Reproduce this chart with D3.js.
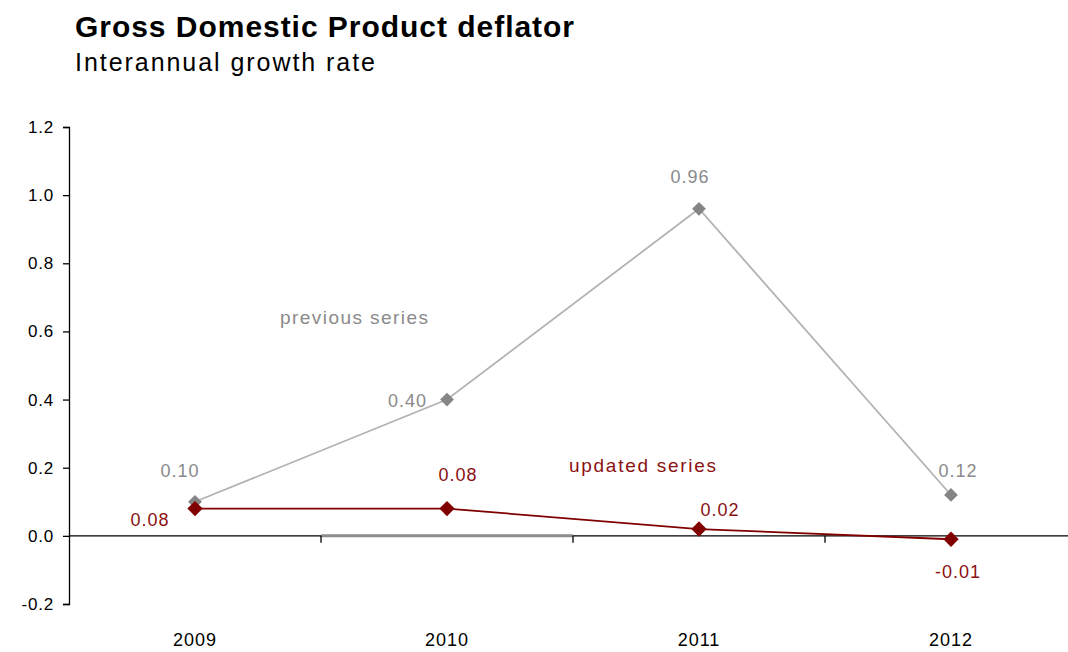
<!DOCTYPE html>
<html>
<head>
<meta charset="utf-8">
<script src="https://cdn.jsdelivr.net/npm/d3@7"></script>
<style>
  html, body { margin: 0; padding: 0; background: #fff; }
  svg { display: block; font-family: "Liberation Sans", Arial, sans-serif; }
</style>
</head>
<body>
<svg id="chart" width="1068" height="652"></svg>
<script>
// Data
const years = ["2009", "2010", "2011", "2012"];
const previousSeries = [0.10, 0.40, 0.96, 0.12];
const updatedSeries = [0.08, 0.08, 0.02, -0.01];
const yTicks = [-0.2, 0.0, 0.2, 0.4, 0.6, 0.8, 1.0, 1.2];

const svg = d3.select("#chart");

const x = d3.scaleBand().domain(years).range([69, 1077]).padding(0);
const y = d3.scaleLinear().domain([-0.2, 1.2]).range([604, 127]);
const cx = d => x(d) + x.bandwidth() / 2;
const hyphen = s => s.replace("\u2212", "-");

// Title block
svg.append("text").attr("x", 75).attr("y", 37)
  .attr("font-size", 30).attr("font-weight", "bold").attr("fill", "#000")
  .attr("textLength", 499).attr("lengthAdjust", "spacing")
  .text("Gross Domestic Product deflator");
svg.append("text").attr("x", 75).attr("y", 71)
  .attr("font-size", 25).attr("fill", "#000")
  .attr("textLength", 300).attr("lengthAdjust", "spacing")
  .text("Interannual growth rate");

// Y axis
const yAxis = svg.append("g").attr("transform", "translate(69,0)")
  .call(d3.axisLeft(y).tickValues(yTicks).tickSize(6).tickPadding(9));
yAxis.select(".domain").attr("stroke", "#000").attr("stroke-width", 1.3);
yAxis.selectAll(".tick line").attr("stroke", "#000").attr("stroke-width", 1.3);
yAxis.selectAll(".tick text").attr("font-size", 17).attr("fill", "#000")
  .attr("letter-spacing", 0.8)
  .attr("font-family", "Liberation Sans, Arial, sans-serif")
  .text(d => hyphen(d3.format(".1f")(d)));

// Zero line with tick marks between categories
const zeroY = y(0);
svg.append("line").attr("x1", 69).attr("x2", 1068).attr("y1", zeroY).attr("y2", zeroY)
  .attr("stroke", "#000").attr("stroke-width", 1.3);
svg.append("line").attr("x1", x("2010")).attr("x2", x("2011")).attr("y1", zeroY).attr("y2", zeroY)
  .attr("stroke", "#8c8c8c").attr("stroke-width", 3);
svg.selectAll(".xtick").data(years.slice(1)).enter().append("line")
  .attr("x1", d => x(d)).attr("x2", d => x(d))
  .attr("y1", zeroY).attr("y2", zeroY + 7)
  .attr("stroke", "#000").attr("stroke-width", 1.3);

// Category labels along the bottom
svg.selectAll(".xlabel").data(years).enter().append("text")
  .attr("x", d => cx(d)).attr("y", 646).attr("text-anchor", "middle")
  .attr("font-size", 18).attr("letter-spacing", 1).attr("fill", "#000").text(d => d);

const fmt = d3.format(".2f");
const line = d3.line().x(d => cx(d.year)).y(d => y(d.value));

function drawSeries(values, opts) {
  const pts = years.map((yr, i) => ({ year: yr, value: values[i] }));
  svg.append("path").datum(pts).attr("d", line)
    .attr("fill", "none").attr("stroke", opts.line).attr("stroke-width", opts.width);
  svg.selectAll(null).data(pts).enter().append("path")
    .attr("d", d3.symbol(d3.symbolDiamond2, opts.markerSize))
    .attr("transform", d => `translate(${cx(d.year)},${y(d.value)})`)
    .attr("fill", opts.marker);
  svg.selectAll(null).data(pts).enter().append("text")
    .attr("x", (d, i) => cx(d.year) + opts.offsets[i][0])
    .attr("y", (d, i) => y(d.value) + opts.offsets[i][1])
    .attr("text-anchor", (d, i) => opts.offsets[i][2] || "middle")
    .attr("font-size", 18).attr("letter-spacing", 1).attr("fill", opts.text)
    .text(d => hyphen(fmt(d.value)));
}

drawSeries(previousSeries, {
  line: "#b3b3b3", width: 1.8, marker: "#858585", markerSize: 120, text: "#8a8a8a",
  offsets: [[-15, -25], [-20, 7, "end"], [-9, -26], [7, -18]]
});
drawSeries(updatedSeries, {
  line: "#800000", width: 1.8, marker: "#800000", markerSize: 150, text: "#8b1111",
  offsets: [[-45, 17], [11, -28], [21, -13], [7, 39]]
});

// Series captions
svg.append("text").attr("x", 280).attr("y", 324).attr("font-size", 19)
  .attr("textLength", 148).attr("lengthAdjust", "spacing")
  .attr("fill", "#8a8a8a").text("previous series");
svg.append("text").attr("x", 569).attr("y", 472).attr("font-size", 19)
  .attr("textLength", 147).attr("lengthAdjust", "spacing")
  .attr("fill", "#8b1111").text("updated series");
</script>
</body>
</html>
